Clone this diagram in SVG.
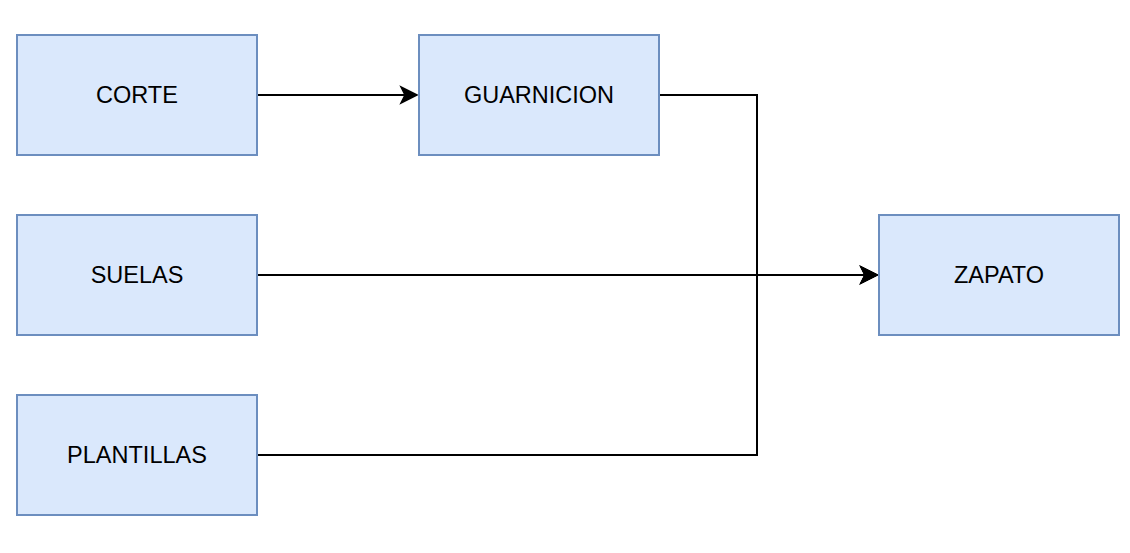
<svg xmlns="http://www.w3.org/2000/svg" width="1130" height="553" viewBox="0 0 1130 553">
<style>
.box{fill:#dae8fc;stroke:#6c8ebf;stroke-width:2}
.lbl{font-family:"Liberation Sans",Arial,sans-serif;font-size:23.5px;fill:#000;text-anchor:middle}
.edge{fill:none;stroke:#000;stroke-width:2}
</style>
<defs>
<marker id="arr" markerUnits="userSpaceOnUse" viewBox="-20 -10 22 20" markerWidth="22" markerHeight="20" refX="0" refY="0" orient="auto">
<path d="M0,0 L-16,-8 L-12,0 L-16,8 Z" fill="#000" stroke="#000" stroke-width="1.5" stroke-linejoin="miter"/>
</marker>
</defs>
<rect width="1130" height="553" fill="#fff"/>
<g id="connectors">
<path class="edge" d="M258,95 L417,95" marker-end="url(#arr)"/>
<path class="edge" d="M660,95 L757,95 L757,275 L877,275" marker-end="url(#arr)"/>
<path class="edge" d="M258,275 L877,275" marker-end="url(#arr)"/>
<path class="edge" d="M258,455 L757,455 L757,275 L877,275" marker-end="url(#arr)"/>
</g>
<g id="corte"><rect class="box" x="17" y="35" width="240" height="120"/><text class="lbl" x="137" y="103.3">CORTE</text></g>
<g id="guarnicion"><rect class="box" x="419" y="35" width="240" height="120"/><text class="lbl" x="539" y="103.3">GUARNICION</text></g>
<g id="suelas"><rect class="box" x="17" y="215" width="240" height="120"/><text class="lbl" x="137" y="283.3">SUELAS</text></g>
<g id="plantillas"><rect class="box" x="17" y="395" width="240" height="120"/><text class="lbl" x="137" y="463.3">PLANTILLAS</text></g>
<g id="zapato"><rect class="box" x="879" y="215" width="240" height="120"/><text class="lbl" x="999" y="283.3">ZAPATO</text></g>
</svg>
